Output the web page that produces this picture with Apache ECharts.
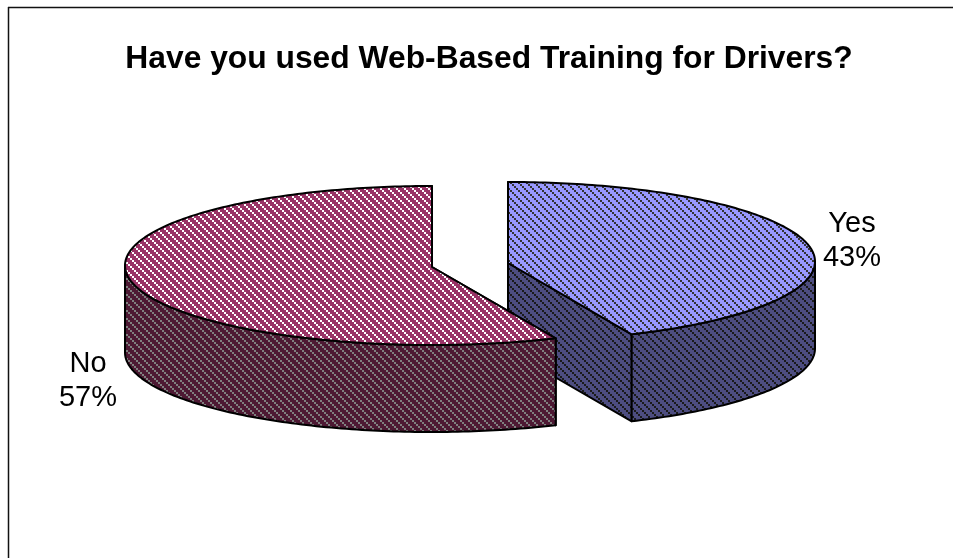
<!DOCTYPE html>
<html>
<head>
<meta charset="utf-8">
<style>
  html, body { margin: 0; padding: 0; background: #fff; }
  #chart { width: 953px; height: 558px; }
</style>
<script src="https://cdn.jsdelivr.net/npm/echarts@6/dist/echarts.min.js"></script>
</head>
<body>
<div id="chart"></div>
<script>
// values (labels show them rounded)
const categories = ['Yes', 'No'];
const shares = [43.4, 56.6];

const chartTitle = 'Have you used Web-Based Training for Drivers?';

// top face colour, hatch colour, side colour, side hatch colour
const topColors = ['#9999ff', '#993366'];
const topHatch = ['#333333', '#ffffff'];
const sideColors = ['#4d4d80', '#4d1933'];
const sideHatch = ['#1a1a1a', '#808080'];

// where each exploded slice sits, and where its label goes
const centers = [[508, 263], [432, 267]];
const labelPos = [[852, 241], [88, 381]];
const rx = 307, ry = 79.5, depth = 87;
const ellipseShift = -1.5; // rim is drawn a little above the apex

// 8x8 diagonal hatch made of 2px blocks
function hatch(bg, fg) {
  const c = document.createElement('canvas');
  c.width = 8;
  c.height = 8;
  const ctx = c.getContext('2d');
  ctx.fillStyle = bg;
  ctx.fillRect(0, 0, 8, 8);
  ctx.fillStyle = fg;
  for (let i = 0; i < 4; i++) {
    ctx.fillRect(i * 2, i * 2, 2, 2);
  }
  return { image: c, repeat: 'repeat' };
}

const total = shares.reduce((a, b) => a + b, 0);

function renderSlice(params, api) {
  const i = params.dataIndex;
  let before = 0;
  for (let k = 0; k < i; k++) before += shares[k];
  const a0 = before / total * 360;
  const a1 = (before + api.value(0)) / total * 360;
  const cx = centers[i][0], cy = centers[i][1];

  const pt = (deg, dy) => {
    const r = deg * Math.PI / 180;
    return [cx + rx * Math.sin(r), cy + ellipseShift - ry * Math.cos(r) + (dy || 0)];
  };
  const arc = (from, to, dy) => {
    const pts = [];
    const n = Math.max(2, Math.ceil((to - from) / 1));
    for (let k = 0; k <= n; k++) pts.push(pt(from + (to - from) * k / n, dy));
    return pts;
  };
  const line = { stroke: '#000', lineWidth: 2, lineJoin: 'round' };
  const sideFill = hatch(sideColors[i], sideHatch[i]);
  const topFill = hatch(topColors[i], topHatch[i]);
  const children = [];

  // cut faces
  [a0, a1].forEach(a => {
    children.push({
      type: 'polygon',
      shape: { points: [[cx, cy], pt(a), pt(a, depth), [cx, cy + depth]] },
      style: Object.assign({ fill: sideFill }, line)
    });
  });

  // outer wall, only the part facing the viewer
  const w0 = Math.max(a0, 90), w1 = Math.min(a1, 270);
  if (w1 > w0) {
    children.push({
      type: 'polygon',
      shape: { points: arc(w0, w1, 0).concat(arc(w0, w1, depth).reverse()) },
      style: Object.assign({ fill: sideFill }, line)
    });
  }

  // top face
  children.push({
    type: 'polygon',
    shape: { points: [[cx, cy]].concat(arc(a0, a1, 0)) },
    style: Object.assign({ fill: topFill }, line)
  });

  // label
  children.push({
    type: 'text',
    style: {
      x: labelPos[i][0],
      y: labelPos[i][1],
      text: categories[i] + '\n' + Math.round(api.value(0)) + '%',
      fill: '#000',
      font: '29px "Liberation Sans", Arial, sans-serif',
      lineHeight: 34,
      align: 'center',
      verticalAlign: 'middle'
    }
  });

  return { type: 'group', children: children };
}

const chart = echarts.init(document.getElementById('chart'));
chart.setOption({
  animation: false,
  backgroundColor: '#fff',
  title: {
    text: chartTitle,
    left: 484,
    top: 38,
    textAlign: 'center',
    textStyle: {
      fontFamily: '"Liberation Sans", Arial, sans-serif',
      fontSize: 31.8,
      fontWeight: 'bold',
      color: '#000'
    }
  },
  graphic: [
    { type: 'line', shape: { x1: 8, y1: 7.5, x2: 953, y2: 7.5 }, style: { stroke: '#111', lineWidth: 1.5 } },
    { type: 'line', shape: { x1: 8.5, y1: 7, x2: 8.5, y2: 558 }, style: { stroke: '#111', lineWidth: 1.5 } }
  ],
  series: [{
    type: 'custom',
    coordinateSystem: 'none',
    silent: true,
    renderItem: renderSlice,
    data: shares.map(v => [v])
  }]
});
</script>
</body>
</html>
